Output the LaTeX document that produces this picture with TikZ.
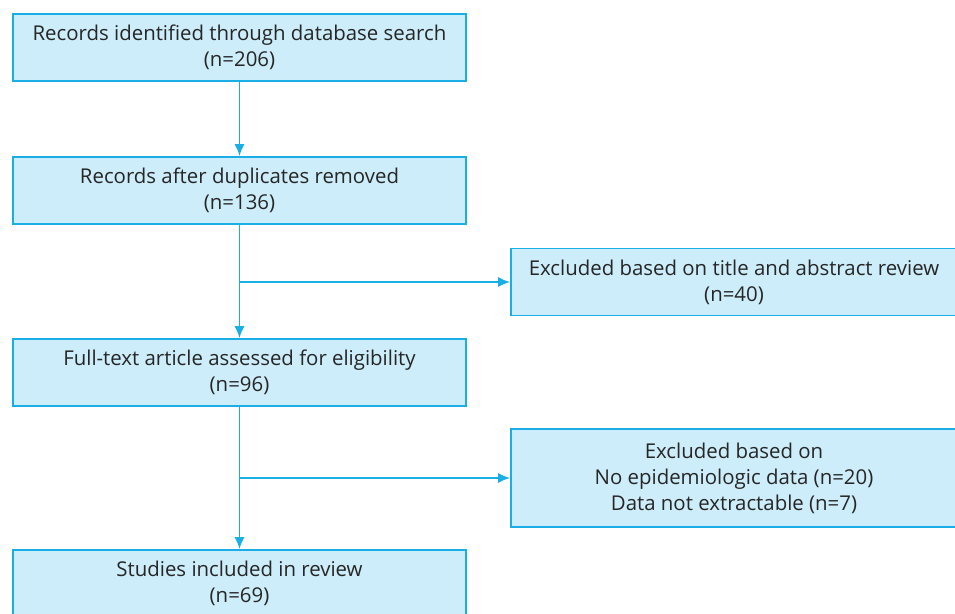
\documentclass[tikz,border=0pt]{standalone}
\usepackage{fontspec}
\setmainfont{Open Sans}
\usetikzlibrary{arrows.meta}

\definecolor{boxfill}{HTML}{CCEDF9}
\definecolor{boxline}{HTML}{1AAEE6}
\definecolor{txt}{HTML}{262626}

\begin{document}
\begin{tikzpicture} [
            x=1pt, y=-1pt,
            font=\fontsize{20.4}{26}\selectfont,
            block/.style    = { rectangle, draw=boxline, line width=1.6pt,
                                fill=boxfill, text=txt, align=center,
                                minimum width=453pt, minimum height=67pt,
                                inner sep=0pt },
            excl/.style     = { block, minimum width=446pt },
            line/.style     = { draw=boxline, line width=1.8pt,
                                -{Latex[length=12pt,width=10pt]} },
          ]
          \useasboundingbox (0,0) rectangle (955,613);

            \node (rec1) [block] at (239.5,47.5) {Records identified through database search\\(n=206)};
            \node (rec2) [block] at (239.5,190.5) {Records after duplicates removed\\(n=136)};
            \node (exc1) [excl] at (734,282) {Excluded based on title and abstract review\\(n=40)};
            \node (full) [block] at (239.5,372.5) {Full-text article assessed for eligibility\\(n=96)};
            \node (exc2) [excl, minimum height=98pt] at (734,478) {Excluded based on\\No epidemiologic data (n=20)\\Data not extractable (n=7)};
            \node (incl) [block] at (239.5,583.5) {Studies included in review\\(n=69)};

            \coordinate (br1) at (rec2.south |- exc1.west);
            \coordinate (br2) at (full.south |- exc2.west);

            \draw [line] (rec1) -- (rec2);
            \draw [line] (rec2) -- (full);
            \draw [line] (br1) -- (exc1);
            \draw [line] (full) -- (incl);
            \draw [line] (br2) -- (exc2);
        \end{tikzpicture}
\end{document}
